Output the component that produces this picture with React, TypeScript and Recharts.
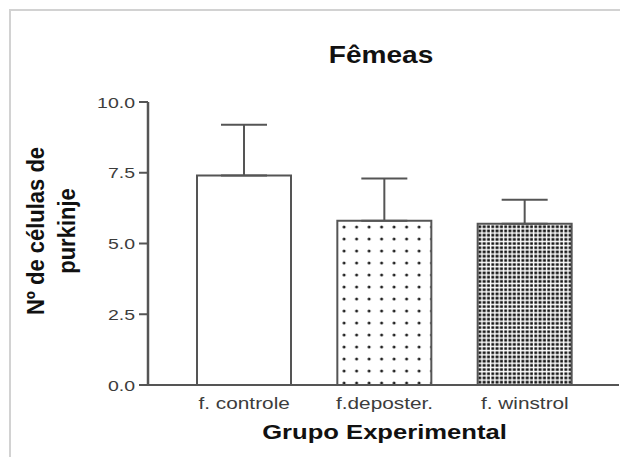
import React from "react";
import { BarChart, Bar, XAxis, YAxis, ErrorBar, Cell, Label } from "recharts";

const categories = ["f. controle", "f.deposter.", "f. winstrol"];
const means = [7.4, 5.8, 5.7];
const errors = [1.8, 1.5, 0.85];
const yTicks = [0, 2.5, 5, 7.5, 10];
const fills = ["#ffffff", "url(#dotsSparse)", "url(#dotsDense)"];

const data = categories.map((name, i) => ({ name, value: means[i], err: [0, errors[i]] }));

const FONT = "'Liberation Sans', Arial, sans-serif";
const STRETCH = 1.3;

function XTick(props: any) {
  const { x, payload } = props;
  return (
    <text
      transform={`translate(${x},409) scale(${STRETCH},1)`}
      textAnchor="middle"
      fontFamily={FONT}
      fontSize={16}
      fill="#3c3c3c"
    >
      {payload.value}
    </text>
  );
}

function YTick(props: any) {
  const { y, payload } = props;
  return (
    <text
      transform={`translate(135,${y + 5.5}) scale(${STRETCH},1)`}
      textAnchor="end"
      fontFamily={FONT}
      fontSize={15}
      fill="#3c3c3c"
    >
      {Number(payload.value).toFixed(1)}
    </text>
  );
}

export default function App() {
  return (
    <div style={{ position: "absolute", left: 0, top: 0, width: 620, height: 457, overflow: "hidden", background: "#fff" }}>
      <div
        style={{
          position: "absolute",
          left: 9,
          top: 9,
          width: 640,
          height: 480,
          borderTop: "2px solid #d2d2d2",
          borderLeft: "2px solid #d2d2d2",
        }}
      />
      <svg width={0} height={0} style={{ position: "absolute" }}>
        <defs>
          <pattern id="dotsSparse" patternUnits="userSpaceOnUse" x={337.5} y={221} width={12.5} height={12}>
            <circle cx={6.6} cy={6} r={1.5} fill="#222" />
          </pattern>
          <pattern id="dotsDense" patternUnits="userSpaceOnUse" x={478} y={225} width={4.3} height={4.2}>
            <rect x={0.4} y={0.4} width={2.9} height={2.7} fill="#1a1a1a" />
          </pattern>
        </defs>
      </svg>
      <svg width={620} height={90} style={{ position: "absolute", left: 0, top: 0 }}>
        <text
          transform={`translate(381,63) scale(1.22,1)`}
          textAnchor="middle"
          fontFamily={FONT}
          fontWeight="bold"
          fontSize={23}
          fill="#111"
        >
          Fêmeas
        </text>
      </svg>
      <div style={{ position: "absolute", left: 0, top: 0 }}>
        <BarChart width={620} height={457} data={data} margin={{ top: 102, right: 1, left: 0, bottom: 0 }}>
          <XAxis
            dataKey="name"
            height={72}
            padding={{ left: 26, right: 24 }}
            tickLine={false}
            axisLine={{ stroke: "#555", strokeWidth: 2 }}
            tick={<XTick />}
            interval={0}
          >
            <Label
              content={() => (
                <text
                  transform={`translate(384.5,439) scale(1.22,1)`}
                  textAnchor="middle"
                  fontFamily={FONT}
                  fontWeight="bold"
                  fontSize={21}
                  fill="#111"
                >
                  Grupo Experimental
                </text>
              )}
            />
          </XAxis>
          <YAxis
            width={148}
            domain={[0, 10]}
            ticks={yTicks}
            interval={0}
            tickSize={9}
            tickLine={{ stroke: "#555", strokeWidth: 2 }}
            axisLine={{ stroke: "#555", strokeWidth: 2.5 }}
            tick={<YTick />}
          >
            <Label
              content={() => (
                <g fontFamily={FONT} fontWeight="bold" fontSize={22} fill="#111">
                  <text transform={`translate(44,231) scale(1.12,1) rotate(-90)`} textAnchor="middle">
                    Nº de células de
                  </text>
                  <text transform={`translate(75,231) scale(1.12,1) rotate(-90)`} textAnchor="middle">
                    purkinje
                  </text>
                </g>
              )}
            />
          </YAxis>
          <Bar dataKey="value" barSize={94} stroke="#555" strokeWidth={2} isAnimationActive={false}>
            {data.map((d, i) => (
              <Cell key={d.name} fill={fills[i]} />
            ))}
            <ErrorBar dataKey="err" width={23} stroke="#555" strokeWidth={2} direction="y" />
          </Bar>
        </BarChart>
      </div>
    </div>
  );
}
